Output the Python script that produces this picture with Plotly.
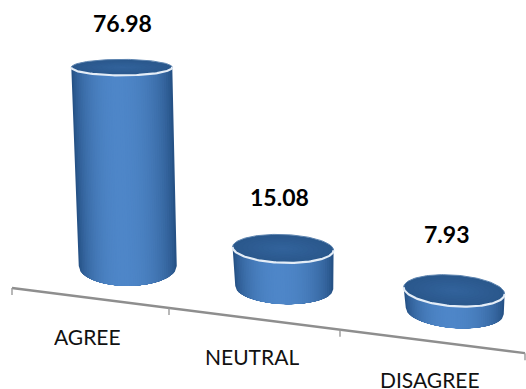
import numpy as np
import plotly.graph_objects as go

# ---- data ----
categories = ["AGREE", "NEUTRAL", "DISAGREE"]
values = [76.98, 15.08, 7.93]
value_labels = ["76.98", "15.08", "7.93"]

# ---- pseudo-3D projection (category position -> page position) ----
W, H = 526, 389
PX_PER_UNIT = 2.58


def axis_x(u):
    return 12 + 150 * u + 7 * u ** 2


def axis_y(x):
    return 288 + 0.127 * (x - 12)


def base_centre(i):
    x = axis_x(i + 0.5) + (39 - 7.5 * i)
    return x, 266 + 0.138 * (x - 128)


def lerp_colour(a, b, t):
    c = [round(a[k] + (b[k] - a[k]) * t) for k in range(3)]
    return f"rgb({c[0]},{c[1]},{c[2]})"


EDGE = (38, 82, 134)
MID = (78, 134, 200)
CAP_EDGE = (42, 88, 140)
CAP_MID = (50, 98, 155)
LAYERS = 26

fig = go.Figure()


def add_fill(xs, ys, colour):
    fig.add_trace(go.Scatter(x=xs, y=ys, mode="lines", fill="toself", fillcolor=colour,
                             line=dict(width=0, color=colour), hoverinfo="skip", showlegend=False))


for i, v in enumerate(values):
    bx, by = base_centre(i)
    h = v * PX_PER_UNIT
    ty = by - h
    tx = bx - 0.03 * h
    top_rx, base_rx = 50.5, 49.0
    top_ry = 8 + 0.034 * (ty - 67)
    base_ry = top_ry + 0.06 * h
    tilt = 0.0002 * (tx - 122)

    # body: nested layers, getting lighter towards the middle
    for k in range(LAYERS):
        f = 1 - k / LAYERS
        s = np.linspace(-1, 1, 60)
        shift = (1 - f) * 0.1
        top_x = tx + top_rx * (s * f - shift)
        bot_x = bx + base_rx * (s * f - shift)
        top_y = ty + tilt * top_rx * s * f + top_ry * np.sqrt(np.clip(1 - (s * f - shift) ** 2, 0, 1))
        bot_y = by + tilt * base_rx * s * f + base_ry * np.sqrt(np.clip(1 - (s * f - shift) ** 2, 0, 1))
        xs = np.concatenate([top_x, bot_x[::-1], top_x[:1]])
        ys = np.concatenate([top_y, bot_y[::-1], top_y[:1]])
        add_fill(xs, ys, lerp_colour(EDGE, MID, (1 - f ** 2.2) ** 0.8))

    # cap
    th = np.linspace(0, 2 * np.pi, 121)
    for k in range(10):
        f = 1 - k / 10
        cx = tx + top_rx * f * np.cos(th)
        cy = ty + tilt * top_rx * f * np.cos(th) + top_ry * f * np.sin(th)
        add_fill(cx, cy, lerp_colour(CAP_EDGE, CAP_MID, k / 9))

    # rim: front arc bright, back arc faint
    th_b = np.linspace(np.pi, 2 * np.pi, 80)
    fig.add_trace(go.Scatter(x=tx + top_rx * np.cos(th_b),
                             y=ty + tilt * top_rx * np.cos(th_b) + top_ry * np.sin(th_b),
                             mode="lines", line=dict(color="#5d84b0", width=1),
                             hoverinfo="skip", showlegend=False))
    th_f = np.linspace(0, np.pi, 80)
    fig.add_trace(go.Scatter(x=tx + top_rx * np.cos(th_f),
                             y=ty + tilt * top_rx * np.cos(th_f) + top_ry * np.sin(th_f),
                             mode="lines", line=dict(color="#e4edf7", width=2.2),
                             hoverinfo="skip", showlegend=False))

# axis with ticks
ax_u = np.array([0, 1, 2, 3])
ax_x = axis_x(ax_u)
ax_y = axis_y(ax_x)
fig.add_trace(go.Scatter(x=ax_x, y=ax_y, mode="lines", line=dict(color="#8e8e8e", width=2.4),
                         hoverinfo="skip", showlegend=False))
for x0, y0 in zip(ax_x, ax_y):
    fig.add_trace(go.Scatter(x=[x0, x0], y=[y0, y0 + 7], mode="lines",
                             line=dict(color="#9a9a9a", width=1.4),
                             hoverinfo="skip", showlegend=False))

# category labels
for i, c in enumerate(categories):
    x = axis_x(i + 0.5) - 1
    fig.add_annotation(x=x, y=axis_y(x) + 38, text=c, showarrow=False, height=20,
                       font=dict(family="Lato, Open Sans, sans-serif", size=21, color="#111111"))

# value labels
LABEL_DX = [1, -4, -8]
LABEL_DY = [-44, -52, -57]
for i, (v, lab) in enumerate(zip(values, value_labels)):
    bx, by = base_centre(i)
    h = v * PX_PER_UNIT
    fig.add_annotation(x=bx - 0.03 * h + LABEL_DX[i], y=by - h + LABEL_DY[i], text=f"<b>{lab}</b>",
                       showarrow=False,
                       font=dict(family="Lato, Open Sans, sans-serif", size=23, color="#000000"))

fig.update_layout(
    width=W, height=H, margin=dict(l=0, r=0, t=0, b=0),
    paper_bgcolor="white", plot_bgcolor="white", showlegend=False,
    xaxis=dict(range=[0, W], visible=False, fixedrange=True),
    yaxis=dict(range=[H, 0], visible=False, fixedrange=True),
)
fig.write_html("out.html", config={"displayModeBar": False},
               post_script="document.body.style.margin='0';document.documentElement.style.overflow='hidden';")
